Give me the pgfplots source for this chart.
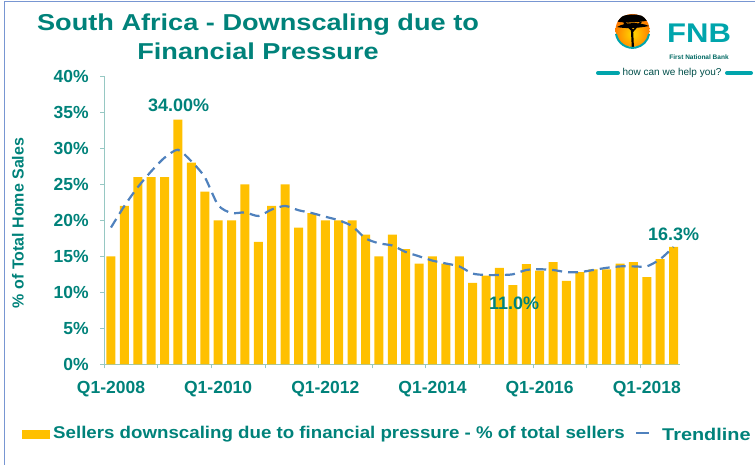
\documentclass[border=0pt]{standalone}
\usepackage{fontspec}
\setmainfont{Liberation Sans}
\usepackage{pgfplots}
\pgfplotsset{compat=1.18}
\definecolor{teal1}{RGB}{0,130,122}
\definecolor{gold}{RGB}{255,192,0}
\definecolor{tblue}{RGB}{79,129,189}
\definecolor{axgray}{RGB}{150,200,195}
\definecolor{fnbteal}{RGB}{0,165,172}
\definecolor{frameblue}{RGB}{120,150,210}
\begin{document}
\begin{tikzpicture}
\useasboundingbox (0pt,-465pt) rectangle (755pt,0pt);
% frame
\draw[frameblue, line width=1.5pt] (4.5pt,-465pt) -- (4.5pt,-1.5pt) -- (755pt,-1.5pt);
% title
\node[xscale=1.18, transform shape, font=\fontsize{23}{29}\selectfont\bfseries, text=teal1, align=center] at (258pt,-37pt) {South Africa - Downscaling due to\\Financial Pressure};
% y label
\node[rotate=90, font=\fontsize{16}{16}\selectfont\bfseries, text=teal1] at (18pt,-223pt) {\% of Total Home Sales};
\begin{axis}[
  at={(104.3pt,-364.3pt)}, anchor=south west,
  width=576pt, height=288pt, scale only axis,
  xmin=-0.5, xmax=42.5, ymin=0, ymax=40,
  axis lines*=left,
  axis line style={draw=axgray, line width=0.8pt},
  ytick={0,5,...,40},
  yticklabel={\pgfmathprintnumber{\tick}\%},
  yticklabel style={xshift=-8pt},
  xtick={-0.5,3.5,...,39.5}, xticklabels={},
  extra x ticks={0,8,16,24,32,40},
  extra x tick labels={Q1-2008,Q1-2010,Q1-2012,Q1-2014,Q1-2016,Q1-2018},
  extra x tick style={major tick length=0pt, xticklabel style={yshift=-13pt}},
  tick style={draw=axgray, line width=0.8pt},
  major tick length=4pt,
  tick align=outside,
  ticklabel style={font=\fontsize{17.5}{20}\selectfont\bfseries, text=teal1},
  /pgf/number format/assume math mode=true,
  clip=false,
]
\addplot[ybar, bar width=9pt, fill=gold, draw=none] coordinates {
(0,15.0) (1,22.0) (2,26.0) (3,26.0) (4,26.0) (5,34.0) (6,28.0) (7,24.0)
(8,20.0) (9,20.0) (10,25.0) (11,17.0) (12,22.0) (13,25.0) (14,19.0) (15,21.0)
(16,20.0) (17,20.0) (18,20.0) (19,18.0) (20,15.0) (21,18.0) (22,16.0) (23,14.0)
(24,15.0) (25,14.0) (26,15.0) (27,11.3) (28,12.3) (29,13.4) (30,11.0) (31,13.9)
(32,13.0) (33,14.2) (34,11.6) (35,12.8) (36,13.2) (37,13.2) (38,14.0) (39,14.2)
(40,12.1) (41,14.6) (42,16.3)
};
\addplot[tblue, line width=2.2pt, dash pattern=on 10pt off 6pt, smooth, tension=0.4, no markers] coordinates {
(0,19.0) (1,22.0) (2,24.6) (3,26.8) (4,28.7) (5,29.8) (6,28.2) (7,26.0)
(8,22.1) (9,21.0) (10,21.1) (11,20.6) (12,21.5) (13,22.0) (14,21.4) (15,21.0)
(16,20.5) (17,20.0) (18,19.2) (19,17.5) (20,16.8) (21,16.5) (22,15.6) (23,15.0)
(24,14.4) (25,14.0) (26,13.6) (27,12.6) (28,12.4) (29,12.4) (30,12.5) (31,13.1)
(32,13.2) (33,13.1) (34,12.8) (35,12.8) (36,13.1) (37,13.4) (38,13.6) (39,13.6)
(40,13.6) (41,14.6) (42,16.3)
};
\node[font=\fontsize{18}{18}\selectfont\bfseries, text=teal1] at (axis cs:5.05,36.0) {34.00\%};
\node[font=\fontsize{18}{18}\selectfont\bfseries, text=teal1] at (axis cs:30.1,8.5) {11.0\%};
\node[font=\fontsize{18}{18}\selectfont\bfseries, text=teal1] at (axis cs:42.0,18.1) {16.3\%};
\end{axis}
% legend
\fill[gold] (22pt,-429.5pt) rectangle (50pt,-438.5pt);
\node[anchor=west, inner sep=0pt, xscale=1.1, transform shape, font=\fontsize{17}{17}\selectfont\bfseries, text=teal1] at (53pt,-434pt) {Sellers downscaling due to financial pressure - \% of total sellers};
\draw[tblue, line width=2pt] (636pt,-433pt) -- (649pt,-433pt);
\node[anchor=west, inner sep=0pt, xscale=1.17, transform shape, font=\fontsize{17}{17}\selectfont\bfseries, text=teal1] at (662pt,-434pt) {Trendline};
% logo
\begin{scope}
\clip (632.5pt,-30pt) circle (17pt);
\shade[inner color=yellow!70!orange, outer color=orange!90!red] (632.5pt,-34pt) circle (20pt);
\fill[black] (615pt,-21pt) .. controls (622pt,-13pt) and (640pt,-12pt) .. (650pt,-20pt) .. controls (642pt,-22pt) and (625pt,-24pt) .. cycle;
\fill[black] (617pt,-27pt) .. controls (625pt,-22pt) and (640pt,-22pt) .. (649pt,-26pt) .. controls (640pt,-28pt) and (626pt,-29pt) .. cycle;
\draw[black, line width=2.2pt] (633pt,-50pt) -- (632pt,-30pt) -- (624pt,-22pt);
\draw[black, line width=1.6pt] (632pt,-32pt) -- (641pt,-22pt);
\end{scope}
\draw[fnbteal, line width=2pt] (616pt,-34pt) arc (190:350:16.8pt);
\node[anchor=west, inner sep=0pt, xscale=1.15, transform shape, font=\fontsize{27}{27}\selectfont\bfseries, text=fnbteal] at (667pt,-33pt) {FNB};
\node[inner sep=0pt, font=\fontsize{6.5}{7}\selectfont\bfseries, text=teal1!80!black] at (699pt,-57pt) {First National Bank};
\node[inner sep=0pt, font=\fontsize{10}{10}\selectfont, text=teal1!60!black] at (672pt,-73pt) {how can we help you?};
\draw[fnbteal, line width=4pt, line cap=round] (598pt,-73pt) -- (618pt,-73pt);
\draw[fnbteal, line width=4pt, line cap=round] (727pt,-73pt) -- (751pt,-73pt);
\end{tikzpicture}
\end{document}
